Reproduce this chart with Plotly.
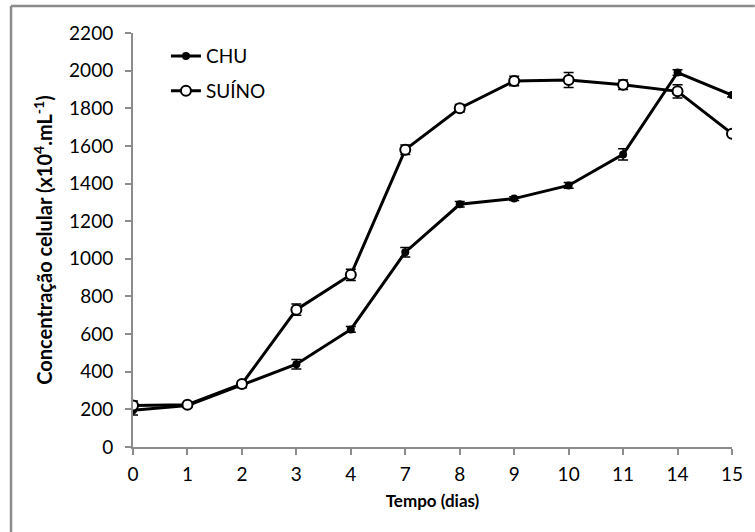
import plotly.graph_objects as go

dias = ["0", "1", "2", "3", "4", "7", "8", "9", "10", "11", "14", "15"]
chu = [195, 220, 330, 440, 625, 1035, 1290, 1320, 1390, 1555, 1990, 1870]
chu_err = [25, 10, 15, 25, 15, 25, 15, 10, 15, 30, 15, 10]
suino = [220, 225, 335, 730, 915, 1580, 1800, 1945, 1950, 1925, 1890, 1665]
suino_err = [25, 10, 15, 30, 30, 25, 20, 25, 40, 25, 35, 10]
y_ticks = list(range(0, 2201, 200))

FONT = "Lato"

fig = go.Figure()
fig.add_trace(go.Scatter(
    x=dias, y=chu, name="CHU", mode="lines+markers",
    line=dict(color="black", width=3),
    marker=dict(symbol="circle", size=8, color="black"),
    error_y=dict(type="data", array=chu_err, color="black", thickness=1.5, width=5),
    legendgroup="a",
))
fig.add_trace(go.Scatter(
    x=dias, y=suino, name="SUÍNO", mode="lines+markers",
    line=dict(color="black", width=3),
    marker=dict(symbol="circle", size=10, color="white", line=dict(color="black", width=2)),
    error_y=dict(type="data", array=suino_err, color="black", thickness=1.5, width=5),
    legendgroup="b",
))

fig.update_layout(
    width=755, height=532,
    margin=dict(l=133, r=18, t=33, b=85),
    paper_bgcolor="white", plot_bgcolor="white",
    font=dict(family=FONT, size=18, color="black"),
    showlegend=True,
    legend=dict(x=0.055, y=0.99, xanchor="left", yanchor="top",
                bgcolor="rgba(0,0,0,0)", font=dict(family=FONT, size=19),
                traceorder="grouped", tracegroupgap=7),
    xaxis=dict(type="category", categoryorder="array", categoryarray=dias,
               range=[0, len(dias) - 1], showgrid=False, zeroline=False,
               showline=True, linecolor="#8c8c8c", linewidth=2,
               ticks="outside", ticklen=6, tickwidth=2, tickcolor="#8c8c8c",
               ticklabelstandoff=3,
               tickfont=dict(family=FONT, size=19),
               title=dict(text="<b>Tempo (dias)</b>", font=dict(family=FONT, size=17), standoff=11)),
    yaxis=dict(range=[0, 2200], tickvals=y_ticks, showgrid=False, zeroline=False,
               showline=True, linecolor="#8c8c8c", linewidth=2,
               ticks="outside", ticklen=6, tickwidth=2, tickcolor="#8c8c8c",
               ticklabelstandoff=8,
               tickfont=dict(family=FONT, size=19),
               title=dict(text="<b>Concentração celular (x10<sup>4</sup>.mL<sup>-1</sup>)</b>",
                          font=dict(family=FONT, size=20), standoff=11)),
)

# outer chart border (cropped on right and bottom in the reference)
fig.add_shape(type="line", xref="paper", yref="paper",
              x0=(10 - 133) / 604, x1=(760 - 133) / 604,
              y0=(447 - 6) / 414, y1=(447 - 6) / 414,
              line=dict(color="#8c8c8c", width=2.5))
fig.add_shape(type="line", xref="paper", yref="paper",
              x0=(10 - 133) / 604, x1=(10 - 133) / 604,
              y0=(447 - 6) / 414, y1=(447 - 540) / 414,
              line=dict(color="#8c8c8c", width=2.5))

fig.write_html("out.html", config={"displayModeBar": False},
               post_script="document.body.style.margin='0px';")
